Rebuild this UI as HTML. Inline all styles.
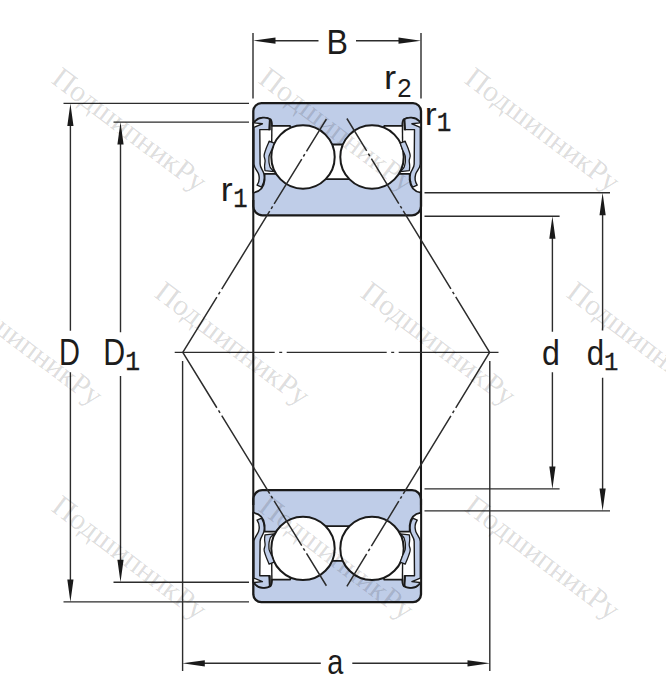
<!DOCTYPE html>
<html><head><meta charset="utf-8">
<style>
html,body{margin:0;padding:0;background:#fff;}
svg{display:block;}
.ls{font-family:"Liberation Sans",sans-serif;fill:#1c1c1c;}
.lm{font-family:"Liberation Mono",monospace;fill:#1c1c1c;stroke:#1c1c1c;stroke-width:0.35px;}
.wm{font-family:"Liberation Serif",serif;fill:#000;fill-opacity:0.145;font-size:30px;}
</style></head><body>
<svg width="666" height="696" viewBox="0 0 666 696">
<defs>
<g id="seal">
  <path d="M254,127.300 L254,164 C254,168 257.500,170.500 258.600,174 C259.800,178 259.500,181.500 257.100,185.200 L261.600,187.200 C264,183 264.800,178 263.800,173.500 C263,170 260.100,168 260.100,164 L259.800,129.600 L269.500,129.600 L270.200,119.500 C267,116.800 259,117 255.500,121 L254.300,122.900 L262.400,123.800 L254,127.300 Z" fill="#bfcde8" stroke="#1a1a1a" stroke-width="1.400" stroke-linejoin="round"/>
  <path d="M268.900,118.900 L270.700,120 L270.700,130.200 L268.300,130.200 Z" fill="#1a1a1a"/>
  <path d="M271.900,125 L271.700,142.500" stroke="#1a1a1a" stroke-width="1.400" fill="none"/>
  <path d="M269.100,141.200 C268,144.500 266.300,147.500 265.600,150 C264.800,152.500 264,154 264.100,156 C264.300,158 265.200,159 265.100,161 C265,163 264.400,165 264.600,167 C264.700,168.500 264.800,169.500 265,170.600 L274,171.600 C272.500,170 270.600,168.500 270.100,167 C269.500,165 268.800,163 268.900,161 C269,159 268.800,157.500 269.100,156 C269.600,154 270.800,152 271.600,150 C272.500,147.500 273.500,145.500 274.100,143.200 Z" fill="#bfcde8" stroke="#1a1a1a" stroke-width="1.300" stroke-linejoin="round"/>
</g>
<g id="half">
  <path d="M253.300,111 A8,8 0 0 1 261.300,103.200 L413,103.200 A8,8 0 0 1 421,111 L421,206 A9,9 0 0 1 412,215.300 L262.300,215.300 A9,9 0 0 1 253.300,206 Z" fill="#bfcde8" stroke="#1a1a1a" stroke-width="2.300"/>
  <path d="M253.30,122.60 L255.50,120.80 C258.50,117.00 266.50,116.60 270.40,119.20 C272.00,120.60 272.00,123.00 272.00,125.80 L290.00,125.80 L303.00,157.00 L332.00,144.50 L342.30,144.50 L371.30,157.00 L384.30,125.80 L402.30,125.80 C402.30,123.00 402.30,120.60 403.90,119.20 C407.80,116.60 415.80,117.00 418.80,120.80 L421.00,122.60 L421.00,192.70 C414.30,191.70 410.30,187.00 409.70,180.00 L409.70,173.80 L395.30,173.80 L371.30,157.00 L352.30,179.20 L322.00,179.20 L303.00,157.00 L279.00,173.80 L264.60,173.80 L264.60,180.00 C264.00,187.00 260.00,191.70 253.30,192.70 Z" fill="#fff" stroke="#1a1a1a" stroke-width="1.800" stroke-linejoin="round"/>
  <circle cx="303" cy="157" r="31.700" fill="#fff" stroke="#1a1a1a" stroke-width="2"/>
  <circle cx="372" cy="157" r="31.700" fill="#fff" stroke="#1a1a1a" stroke-width="2"/>
  <use href="#seal"/>
  <use href="#seal" transform="translate(674.300,0) scale(-1,1)"/>
</g>
</defs>
<rect width="666" height="696" fill="#fff"/>
<use href="#half"/>
<use href="#half" transform="translate(0,705.400) scale(1,-1)"/>
<path d="M253.300,200 L253.300,505 M421,200 L421,505" stroke="#1a1a1a" stroke-width="2.050" fill="none"/>
<g stroke="#2c2c2c" stroke-width="1.400" fill="none">
<path d="M253.0,33.0 L253.0,98.5 M421.0,33.0 L421.0,98.5 M274.0,40.7 L318.5,40.7 M356.0,40.7 L400.0,40.7 M63.5,103.4 L249.0,103.4 M63.5,601.9 L249.0,601.9 M113.5,122.1 L249.0,122.1 M113.5,582.3 L249.0,582.3 M70.4,123.4 L70.4,330.8 M70.4,372.3 L70.4,581.9 M120.5,142.1 L120.5,332.3 M120.5,375.9 L120.5,562.3 M424.5,192.8 L610.0,192.8 M424.5,510.9 L610.0,510.9 M424.5,216.3 L559.6,216.3 M424.5,488.9 L559.6,488.9 M552.4,236.3 L552.4,331.7 M552.4,372.3 L552.4,468.9 M602.6,212.8 L602.6,330.5 M602.6,377.7 L602.6,490.9 M182.6,361.0 L182.6,671.0 M489.8,361.0 L489.8,671.0 M203.0,663.3 L320.8,663.3 M352.3,663.3 L469.0,663.3"/>
<path d="M174.700,352.400 L498.500,352.400" stroke-dasharray="100 4.500 3 4.500"/>
<g stroke-width="1.500">
<path d="M182.80,352.40 L216.86,297.04 M218.54,294.32 L220.01,291.93 M221.74,289.12 L269.69,211.19 M271.16,208.81 L272.62,206.42 M274.14,203.95 L301.76,159.07 M303.33,156.51 L304.80,154.13 M306.48,151.40 L326.39,119.04"/>
<path d="M182.80,352.40 L216.86,407.76 M218.54,410.48 L220.01,412.87 M221.74,415.68 L269.69,493.61 M271.16,495.99 L272.62,498.38 M274.14,500.85 L301.76,545.73 M303.33,548.29 L304.80,550.67 M306.48,553.40 L326.39,585.76"/>
<path d="M489.60,352.40 L455.74,296.91 M454.08,294.18 L452.62,291.79 M450.90,288.97 L403.24,210.87 M401.78,208.48 L400.33,206.09 M398.81,203.61 L371.37,158.62 M369.80,156.06 L368.34,153.67 M366.68,150.94 L346.89,118.50"/>
<path d="M489.60,352.40 L455.74,407.89 M454.08,410.62 L452.62,413.01 M450.90,415.83 L403.24,493.93 M401.78,496.32 L400.33,498.71 M398.81,501.19 L371.37,546.18 M369.80,548.74 L368.34,551.13 M366.68,553.86 L346.89,586.30"/>
</g>
</g>
<path d="M253.0,40.7 L275.5,37.6 L275.5,43.8 Z M421.0,40.7 L398.5,37.6 L398.5,43.8 Z M182.3,663.3 L204.8,660.2 L204.8,666.4 Z M490.0,663.3 L467.5,660.2 L467.5,666.4 Z M70.4,103.4 L67.3,125.9 L73.5,125.9 Z M70.4,601.9 L67.3,579.4 L73.5,579.4 Z M120.5,122.1 L117.4,144.6 L123.6,144.6 Z M120.5,582.3 L117.4,559.8 L123.6,559.8 Z M552.4,216.3 L549.3,238.8 L555.5,238.8 Z M552.4,488.9 L549.3,466.4 L555.5,466.4 Z M602.6,192.8 L599.5,215.3 L605.7,215.3 Z M602.6,510.9 L599.5,488.4 L605.7,488.4 Z" fill="#1a1a1a"/>
<g>
<text class="ls" font-size="34.49" transform="translate(326.42,53.60) scale(0.934,1)">B</text>
<text class="ls" font-size="36.09" transform="translate(58.98,364.70) scale(0.804,1)">D</text>
<text class="ls" font-size="36.09" transform="translate(103.37,364.70) scale(0.841,1)">D</text>
<text class="lm" font-size="27.27" transform="translate(125.27,370.00) scale(0.905,1)">1</text>
<text class="ls" font-size="34.32" transform="translate(542.11,364.56) scale(0.937,1)">d</text>
<text class="ls" font-size="34.32" transform="translate(586.85,364.56) scale(0.912,1)">d</text>
<text class="lm" font-size="25.91" transform="translate(603.93,370.10) scale(0.922,1)">1</text>
<text class="ls" font-size="34.55" transform="translate(327.15,673.65) scale(0.835,1)">a</text>
<text class="ls" font-size="32.41" transform="translate(383.91,89.00) scale(1.127,1)">r</text>
<text class="ls" font-size="25.57" transform="translate(397.32,96.50) scale(1.003,1)">2</text>
<text class="ls" font-size="32.04" transform="translate(424.85,124.60) scale(1.116,1)">r</text>
<text class="lm" font-size="27.27" transform="translate(436.80,131.00) scale(0.890,1)">1</text>
<text class="ls" font-size="32.96" transform="translate(220.75,200.70) scale(1.085,1)">r</text>
<text class="lm" font-size="28.33" transform="translate(233.23,206.70) scale(0.843,1)">1</text>
</g>
<g>
<text class="wm" transform="translate(50,82) rotate(37)">ПодшипникРу</text>
<text class="wm" transform="translate(257,82) rotate(37)">ПодшипникРу</text>
<text class="wm" transform="translate(463,82) rotate(37)">ПодшипникРу</text>
<text class="wm" transform="translate(-54,296) rotate(37)">ПодшипникРу</text>
<text class="wm" transform="translate(153,296) rotate(37)">ПодшипникРу</text>
<text class="wm" transform="translate(359,296) rotate(37)">ПодшипникРу</text>
<text class="wm" transform="translate(565,296) rotate(37)">ПодшипникРу</text>
<text class="wm" transform="translate(50,510) rotate(37)">ПодшипникРу</text>
<text class="wm" transform="translate(257,510) rotate(37)">ПодшипникРу</text>
<text class="wm" transform="translate(463,510) rotate(37)">ПодшипникРу</text>
</g>
</svg>
</body></html>
